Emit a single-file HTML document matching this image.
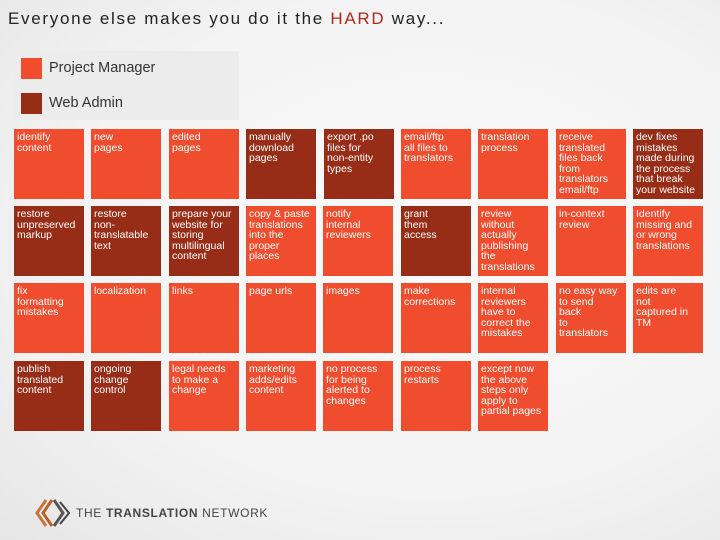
<!DOCTYPE html>
<html><head><style>
body{margin:0;width:720px;height:540px;overflow:hidden;font-family:"Liberation Sans",Arial,sans-serif;background:radial-gradient(ellipse at 60% 45%,#fafafa 0%,#f3f3f3 60%,#e6e6e6 100%);position:relative}
.t{position:absolute;left:8px;top:9px;font-size:17px;color:#222;letter-spacing:1.7px}
.t span{color:#b3261a}
.leg{position:absolute;left:14px;top:51px;width:225px;height:69px;background:#ececec}
.sq{position:absolute;left:7px;width:21px;height:21px}
.lt{position:absolute;left:35px;font-size:14.5px;color:#333}
.c{position:absolute;width:70px;height:70px;background:#f04d2f;color:#fff;font-size:10.5px;line-height:10.5px;padding:3px 0 0 3px;box-sizing:border-box;overflow:hidden}
.d{background:#982d17}
.logo{position:absolute;left:76px;top:506px;font-size:12px;color:#444;letter-spacing:0.65px}
</style></head><body>
<div class="t">Everyone else makes you do it the <span>HARD</span> way...</div>
<div class="leg">
<div class="sq" style="top:7px;background:#f04d2f"></div><div class="lt" style="top:9px">Project Manager</div>
<div class="sq" style="top:42px;background:#982d17"></div><div class="lt" style="top:44px">Web Admin</div>
</div>
<div class="c" style="left:14px;top:129px">identify<br>content</div>
<div class="c" style="left:91px;top:129px">new<br>pages</div>
<div class="c" style="left:169px;top:129px">edited<br>pages</div>
<div class="c d" style="left:246px;top:129px">manually<br>download<br>pages</div>
<div class="c d" style="left:324px;top:129px">export .po<br>files for<br>non-entity<br>types</div>
<div class="c" style="left:401px;top:129px">email/ftp<br>all files to<br>translators</div>
<div class="c" style="left:478px;top:129px">translation<br>process</div>
<div class="c" style="left:556px;top:129px">receive<br>translated<br>files back<br>from<br>translators<br>email/ftp</div>
<div class="c d" style="left:633px;top:129px">dev fixes<br>mistakes<br>made during<br>the process<br>that break<br>your website</div>

<div class="c d" style="left:14px;top:206px">restore<br>unpreserved<br>markup</div>
<div class="c d" style="left:91px;top:206px">restore<br>non-<br>translatable<br>text</div>
<div class="c d" style="left:169px;top:206px">prepare your<br>website for<br>storing<br>multilingual<br>content</div>
<div class="c" style="left:246px;top:206px">copy &amp; paste<br>translations<br>into the<br>proper<br>places</div>
<div class="c" style="left:323px;top:206px">notify<br>internal<br>reviewers</div>
<div class="c d" style="left:401px;top:206px">grant<br>them<br>access</div>
<div class="c" style="left:478px;top:206px">review<br>without<br>actually<br>publishing<br>the<br>translations</div>
<div class="c" style="left:556px;top:206px">in-context<br>review</div>
<div class="c" style="left:633px;top:206px">Identify<br>missing and<br>or wrong<br>translations</div>

<div class="c" style="left:14px;top:283px">fix<br>formatting<br>mistakes</div>
<div class="c" style="left:91px;top:283px">localization</div>
<div class="c" style="left:169px;top:283px">links</div>
<div class="c" style="left:246px;top:283px">page urls</div>
<div class="c" style="left:323px;top:283px">images</div>
<div class="c" style="left:401px;top:283px">make<br>corrections</div>
<div class="c" style="left:478px;top:283px">internal<br>reviewers<br>have to<br>correct the<br>mistakes</div>
<div class="c" style="left:556px;top:283px">no easy way<br>to send<br>back<br>to<br>translators</div>
<div class="c" style="left:633px;top:283px">edits are<br>not<br>captured in<br>TM</div>

<div class="c d" style="left:14px;top:361px">publish<br>translated<br>content</div>
<div class="c d" style="left:91px;top:361px">ongoing<br>change<br>control</div>
<div class="c" style="left:169px;top:361px">legal needs<br>to make a<br>change</div>
<div class="c" style="left:246px;top:361px">marketing<br>adds/edits<br>content</div>
<div class="c" style="left:323px;top:361px">no process<br>for being<br>alerted to<br>changes</div>
<div class="c" style="left:401px;top:361px">process<br>restarts</div>
<div class="c" style="left:478px;top:361px">except now<br>the above<br>steps only<br>apply to<br>partial pages</div>

<svg style="position:absolute;left:34px;top:497px" width="40" height="32" viewBox="0 0 40 32">
<polyline points="12,3 3,16 12,29" fill="none" stroke="#c8743a" stroke-width="3"/>
<polyline points="18,3 9,16 18,29" fill="none" stroke="#b8622a" stroke-width="3"/>
<polyline points="20,3 29,16 20,29" fill="none" stroke="#555" stroke-width="3"/>
<polyline points="26,5 35,16 26,27" fill="none" stroke="#444" stroke-width="2"/>
</svg>
<div class="logo">THE <b>TRANSLATION</b> NETWORK</div>
</body></html>
